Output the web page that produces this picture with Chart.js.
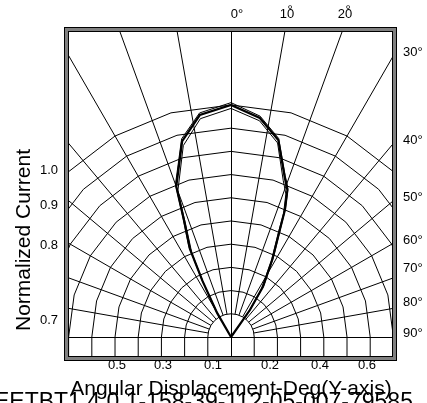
<!DOCTYPE html>
<html>
<head>
<meta charset="utf-8">
<script src="https://cdn.jsdelivr.net/npm/chart.js@4.4.1/dist/chart.umd.min.js"></script>
<style>
html, body { margin: 0; padding: 0; background: #fff; }
</style>
</head>
<body>
<canvas id="myChart" width="427" height="403"></canvas>
<script>
// lobe: angle (deg from axis) and relative intensity
const lobeAngles = [-31, -30, -27, -25, -22, -20, -14, -8, 0, 7.5, 13.5, 18.5, 21, 23, 24.5, 28, 32.5, 35, 36];
const lobeMain   = [0, 0.12, 0.27, 0.42, 0.54, 0.69, 0.87, 0.966, 1.0, 0.952, 0.873, 0.728, 0.678, 0.595, 0.507, 0.38, 0.256, 0.142, 0];
const lobeInner  = [0, 0.11, 0.26, 0.40, 0.52, 0.67, 0.85, 0.95, 0.985, 0.94, 0.86, 0.71, 0.66, 0.58, 0.49, 0.37, 0.24, 0.13, 0];
const lobeOuter  = [0, 0.125, 0.28, 0.43, 0.55, 0.70, 0.88, 0.975, 1.01, 0.96, 0.88, 0.735, 0.685, 0.60, 0.515, 0.39, 0.265, 0.15, 0];

// grid
const ringValues = [0.1, 0.2, 0.3, 0.4, 0.5, 0.6, 0.7, 0.8, 0.9, 1.0];
const spokeAngles = [-80, -70, -60, -50, -40, -30, -20, -10, 10, 20, 30, 40, 50, 60, 70, 80];
const ringStep = 15;

// tick labels
const topLabels = ['0°', '10', '20'];
const rightLabels = ['30°', '40°', '50°', '60°', '70°', '80°', '90°'];
const leftLabels = ['1.0', '0.9', '0.8', '0.7'];
const bottomLabels = ['0.5', '0.3', '0.1', '0.2', '0.4', '0.6'];

const FONT = '"Liberation Sans", Arial, sans-serif';

function toXY(angles, values) {
    return angles.map((a, i) => ({
        x: values[i] * Math.sin(a * Math.PI / 180),
        y: values[i] * Math.cos(a * Math.PI / 180)
    }));
}

const polarGrid = {
    id: 'polarGrid',
    beforeDatasetsDraw(chart) {
        const { ctx, chartArea } = chart;
        const xs = chart.scales.x, ys = chart.scales.y;
        const px = (r, a) => xs.getPixelForValue(r * Math.sin(a * Math.PI / 180));
        const py = (r, a) => ys.getPixelForValue(r * Math.cos(a * Math.PI / 180));
        ctx.save();
        ctx.beginPath();
        ctx.rect(chartArea.left, chartArea.top, chartArea.width, chartArea.height);
        ctx.clip();
        ctx.strokeStyle = '#000';
        ctx.lineWidth = 1;

        // rings (polygons), running straight down to the frame below the horizon
        ringValues.forEach(r => {
            ctx.beginPath();
            ctx.moveTo(px(r, -90), chartArea.bottom);
            for (let a = -90; a <= 90; a += ringStep) {
                ctx.lineTo(px(r, a), py(r, a));
            }
            ctx.lineTo(px(r, 90), chartArea.bottom);
            ctx.stroke();
        });

        // spokes
        spokeAngles.forEach(a => {
            ctx.beginPath();
            ctx.moveTo(px(0.1, a), py(0.1, a));
            ctx.lineTo(px(3, a), py(3, a));
            ctx.stroke();
        });

        // 0 deg and 90 deg lines
        const x0 = Math.round(xs.getPixelForValue(0)) + 0.5;
        const y0 = Math.round(ys.getPixelForValue(0)) + 0.5;
        ctx.beginPath();
        ctx.moveTo(x0, chartArea.top);
        ctx.lineTo(x0, chartArea.bottom);
        ctx.moveTo(chartArea.left, y0);
        ctx.lineTo(chartArea.right, y0);
        ctx.stroke();
        ctx.restore();
    },
    afterDatasetsDraw(chart) {
        const { ctx, chartArea } = chart;
        const l = chartArea.left, t = chartArea.top, w = chartArea.width, h = chartArea.height;
        ctx.save();
        ctx.strokeStyle = '#808080';
        ctx.lineWidth = 3;
        ctx.strokeRect(l - 0.5, t - 0.5, w + 1, h + 1);
        ctx.strokeStyle = '#000';
        ctx.lineWidth = 1;
        ctx.strokeRect(l - 2.5, t - 2.5, w + 5, h + 5);
        ctx.strokeRect(l + 1.5, t + 1.5, w - 3, h - 3);

        ctx.fillStyle = '#000';
        ctx.font = '13px ' + FONT;
        ctx.textBaseline = 'middle';
        ctx.textAlign = 'center';
        const topX = [237, 287, 345];
        topLabels.forEach((s, i) => ctx.fillText(s, topX[i], 14));
        ctx.fillText('°', 290, 10);
        ctx.fillText('°', 348, 10);

        ctx.textAlign = 'left';
        const rightY = [52, 140, 197, 240, 268, 302, 333];
        rightLabels.forEach((s, i) => ctx.fillText(s, 403, rightY[i]));

        ctx.textAlign = 'right';
        const leftY = [170, 205, 245, 320];
        leftLabels.forEach((s, i) => ctx.fillText(s, 58, leftY[i]));

        ctx.textAlign = 'center';
        const bottomX = [117, 163, 213, 270, 320, 367];
        bottomLabels.forEach((s, i) => ctx.fillText(s, bottomX[i], 365));

        ctx.font = '21px ' + FONT;
        ctx.textBaseline = 'alphabetic';
        ctx.fillText('Angular Displacement-Deg(Y-axis)', 231, 395);
        ctx.textAlign = 'left';
        ctx.font = '23px ' + FONT;
        ctx.fillText('EETBT1.4.0.1-158-39-112-05-007-79585', -6, 409);

        ctx.translate(30, 240);
        ctx.rotate(-Math.PI / 2);
        ctx.textAlign = 'center';
        ctx.font = '21px ' + FONT;
        ctx.fillText('Normalized Current', 0, 0);
        ctx.restore();
    }
};

const ctx = document.getElementById('myChart').getContext('2d');

new Chart(ctx, {
    type: 'scatter',
    data: {
        datasets: [
            {
                data: toXY(lobeAngles, lobeOuter),
                showLine: true,
                borderColor: '#000',
                borderWidth: 1,
                pointRadius: 0
            },
            {
                data: toXY(lobeAngles, lobeMain),
                showLine: true,
                borderColor: '#000',
                borderWidth: 2.2,
                pointRadius: 0
            },
            {
                data: toXY(lobeAngles, lobeInner),
                showLine: true,
                borderColor: '#000',
                borderWidth: 1,
                pointRadius: 0
            }
        ]
    },
    options: {
        responsive: false,
        animation: false,
        devicePixelRatio: 1,
        scales: {
            x: { type: 'linear', min: -0.707, max: 0.7026, display: false },
            y: { type: 'linear', min: -0.0905, max: 1.323, display: false }
        },
        plugins: {
            legend: { display: false },
            tooltip: { enabled: false }
        },
        layout: {
            padding: { left: 67, right: 33, top: 30, bottom: 45 }
        }
    },
    plugins: [polarGrid]
});
</script>
</body>
</html>
